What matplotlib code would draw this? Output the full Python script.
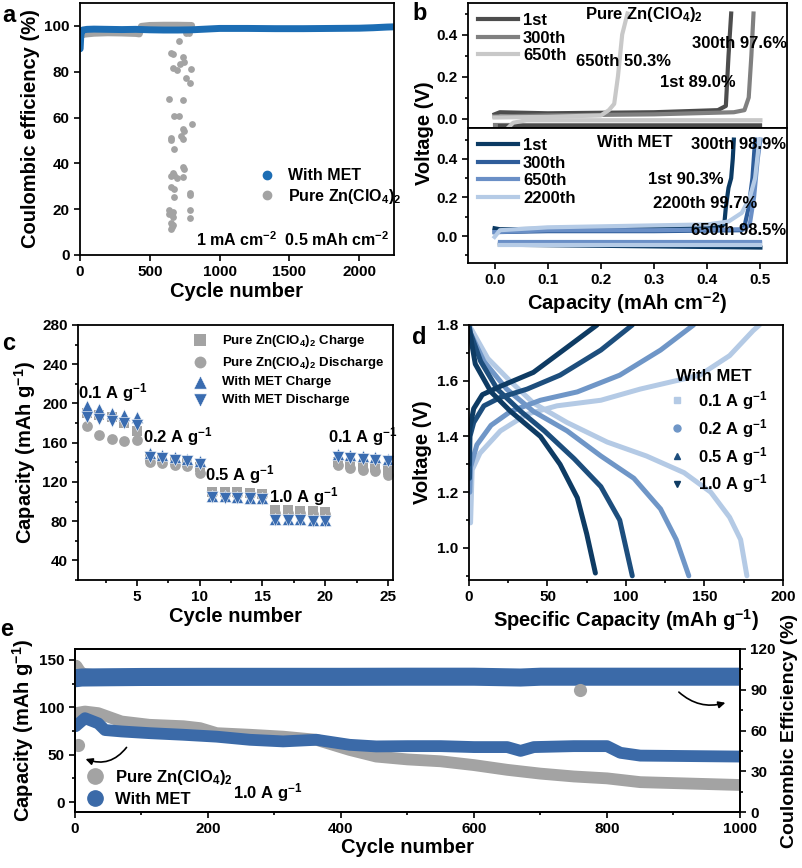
import matplotlib
matplotlib.use("Agg")
import matplotlib.pyplot as plt
from matplotlib.lines import Line2D
from matplotlib.ticker import MultipleLocator

plt.rcParams['font.family'] = ['Liberation Sans', 'DejaVu Sans']
plt.rcParams['font.weight'] = 'bold'
plt.rcParams['axes.labelweight'] = 'bold'
plt.rcParams['mathtext.fontset'] = 'custom'
plt.rcParams['mathtext.bf'] = 'Liberation Sans:bold'
plt.rcParams['mathtext.rm'] = 'Liberation Sans:bold'
plt.rcParams['mathtext.default'] = 'bf'
plt.rcParams['axes.linewidth'] = 1.3

# ---------------- data ----------------
# a: Coulombic efficiency
a_met_cycle = [1, 5, 10, 20, 50, 100, 200, 300, 400, 500, 600, 700, 800, 900, 1000,
               1200, 1400, 1600, 1800, 2000, 2100, 2200, 2250]
a_met_ce = [90, 95, 97.5, 98.2, 98.5, 98.6, 98.5, 98.4, 98.5, 98.3, 98.2, 98.2, 98.3,
            98.6, 98.9, 98.9, 98.8, 98.8, 98.9, 99.0, 99.2, 99.5, 99.6]
a_pure_cycle = [5, 20, 50, 100, 200, 300, 400, 425, 440, 500, 600, 700, 800]
a_pure_ce = [95.5, 96.3, 96.5, 96.8, 97.0, 96.9, 96.7, 96.5, 99.8, 100.2, 100.3, 100.3, 100.2]
a_scatter_cycle = [708, 652, 669, 737, 720, 744, 664, 696, 792, 761, 785, 640, 737, 676,
                   708, 804, 737, 744, 652, 652, 725, 737, 671, 737, 744, 664, 676, 652,
                   696, 737, 652, 671, 785, 785, 671, 640, 664, 785, 640, 664, 785, 652,
                   657, 652, 664, 760, 780]
a_scatter_ce = [93.6, 88.1, 87.8, 86.6, 83.5, 84.2, 81.6, 80.8, 81.0, 77.4, 75.0, 68.2,
                67.8, 60.7, 60.5, 57.3, 55.2, 54.1, 51.1, 50.1, 51.8, 50.8, 46.2, 38.5,
                37.7, 36.0, 34.8, 34.4, 33.4, 34.1, 29.8, 29.0, 27.1, 26.1, 25.1, 19.6,
                18.9, 19.6, 17.7, 16.7, 16.0, 14.1, 12.3, 11.2, 13.1, 97.0, 97.0]

# b: voltage profiles, pure electrolyte
b_p1_cap = [0, 0.01, 0.1, 0.3, 0.42, 0.435, 0.44, 0.445]
b_p1_v = [0.02, 0.03, 0.025, 0.03, 0.04, 0.06, 0.3, 0.5]
b_p300_cap = [0, 0.1, 0.3, 0.45, 0.47, 0.478, 0.483, 0.487]
b_p300_v = [0.01, 0.015, 0.02, 0.03, 0.04, 0.1, 0.3, 0.5]
b_p650_cap = [0, 0.1, 0.2, 0.215, 0.225, 0.232, 0.24, 0.25]
b_p650_v = [0.005, 0.008, 0.015, 0.04, 0.07, 0.2, 0.4, 0.5]
b_p1_plate_cap = [0.01, 0.5]
b_p1_plate_v = [-0.035, -0.035]
b_p300_plate_cap = [0.0, 0.5]
b_p300_plate_v = [-0.03, -0.03]
b_p650_plate_cap = [0.025, 0.035, 0.06, 0.5]
b_p650_plate_v = [-0.045, -0.02, -0.008, -0.008]

# b: voltage profiles, with MET
b_m1_cap = [0, 0.01, 0.2, 0.42, 0.432, 0.435, 0.44, 0.445, 0.448, 0.45]
b_m1_v = [0.04, 0.035, 0.04, 0.045, 0.06, 0.15, 0.25, 0.3, 0.4, 0.5]
b_m300_cap = [0, 0.1, 0.3, 0.465, 0.47, 0.478, 0.485, 0.49]
b_m300_v = [0.02, 0.025, 0.025, 0.03, 0.05, 0.15, 0.3, 0.5]
b_m650_cap = [0, 0.1, 0.3, 0.47, 0.48, 0.488, 0.495, 0.5]
b_m650_v = [0.02, 0.03, 0.03, 0.035, 0.06, 0.2, 0.4, 0.5]
b_m2200_cap = [0, 0.01, 0.1, 0.3, 0.4, 0.44, 0.465, 0.48, 0.49, 0.498]
b_m2200_v = [-0.005, 0.03, 0.045, 0.055, 0.06, 0.075, 0.12, 0.2, 0.3, 0.5]
b_m1_plate_cap = [0.01, 0.5]
b_m1_plate_v = [-0.045, -0.06]
b_m300_plate_v = [-0.035, -0.035]
b_m650_plate_v = [-0.03, -0.03]
b_m2200_plate_v = [-0.045, -0.045]

# c: rate performance
c_cycle = list(range(1, 26))
c_pure_charge = [190, 188, 186, 180, 172, 145, 143, 142, 140, 135, 110, 110, 110, 109, 108,
                 91, 91, 90, 90, 89, 140, 138, 136, 135, 132]
c_pure_dis = [177, 168, 164, 162, 163, 140, 139, 137, 136, 129, 109, 108, 108, 108, 107,
              88, 88, 88, 87, 87, 137, 134, 132, 131, 127]
c_met_charge = [197, 194, 190, 188, 186, 149, 147, 145, 143, 141, 106, 106, 105, 104, 104,
                82, 82, 82, 81, 81, 148, 147, 146, 145, 143]
c_met_dis = [186, 184, 182, 180, 178, 145, 144, 142, 141, 138, 105, 104, 104, 104, 103,
             81, 81, 81, 80, 80, 145, 144, 143, 142, 141]

# d: GCD curves with MET
d01_ch_cap = [1, 2, 7, 20, 37, 56, 84, 109, 147, 166, 181, 185]
d01_ch_v = [1.09, 1.28, 1.34, 1.42, 1.48, 1.51, 1.53, 1.57, 1.62, 1.69, 1.78, 1.8]
d01_dis_cap = [0, 2, 12, 26, 41, 62.5, 88, 113, 137, 154, 166, 173, 177]
d01_dis_v = [1.8, 1.78, 1.68, 1.6, 1.52, 1.45, 1.38, 1.33, 1.27, 1.2, 1.11, 1.03, 0.9]
d02_ch_cap = [0.5, 1, 5, 14, 26.5, 45.5, 69, 96, 122, 143]
d02_ch_v = [1.2, 1.29, 1.37, 1.44, 1.49, 1.53, 1.56, 1.62, 1.71, 1.8]
d02_dis_cap = [0, 1, 9.5, 24, 41, 62.5, 84, 105, 122, 132, 140]
d02_dis_v = [1.8, 1.77, 1.67, 1.57, 1.49, 1.42, 1.33, 1.25, 1.14, 1.03, 0.9]
d05_ch_cap = [0.3, 0.6, 3, 9.5, 20, 37, 58, 84, 104]
d05_ch_v = [1.25, 1.4, 1.45, 1.51, 1.54, 1.57, 1.62, 1.71, 1.8]
d05_dis_cap = [0, 1, 7.4, 18, 33, 48, 67, 84, 96, 104]
d05_dis_v = [1.8, 1.77, 1.67, 1.57, 1.49, 1.42, 1.32, 1.22, 1.1, 0.9]
d10_ch_cap = [0, 0.5, 3, 8.5, 20, 41, 62.5, 81.5]
d10_ch_v = [1.3, 1.43, 1.5, 1.55, 1.58, 1.63, 1.72, 1.8]
d10_dis_cap = [0, 4, 14, 26.5, 45.5, 58, 69, 75, 80.5]
d10_dis_v = [1.79, 1.66, 1.56, 1.49, 1.4, 1.3, 1.18, 1.05, 0.91]

# e: long cycling at 1.0 A g-1
e_met_cycle = [1, 15, 35, 45, 70, 112, 163, 213, 263, 313, 363, 413, 453, 500, 550, 600,
               650, 670, 690, 750, 800, 820, 850, 1000]
e_met_cap = [80, 88.5, 83, 76, 74.5, 72.7, 71, 69, 65.7, 64, 65.7, 60.4, 58.7, 59, 59, 58,
             58, 54, 58, 59, 59, 52, 49, 48]
e_pure_cycle = [1, 15, 35, 70, 112, 163, 188, 213, 263, 313, 363, 413, 453, 500, 550, 600,
                650, 700, 750, 800, 850, 900, 1000]
e_pure_cap = [93.8, 95.5, 93.8, 85, 81.5, 80, 78, 72.7, 71, 69, 65.7, 55, 48, 45, 43, 39,
              34, 30, 27, 25, 21, 20, 18]
e_ce_cycle = [1, 10, 50, 100, 200, 300, 400, 500, 600, 670, 700, 800, 900, 1000]
e_met_ce = [98.5, 99.0, 99.2, 99.4, 99.5, 99.5, 99.5, 99.6, 99.6, 99.0, 99.6, 99.6, 99.6, 99.6]
e_pure_ce_cycle = [1, 5, 10, 30, 100]
e_pure_ce = [107, 104, 101, 100, 99.5]
e_outlier_cap_cycle = [5]
e_outlier_cap = [60]
e_outlier_ce_cycle = [760]
e_outlier_ce = [90]

# ---------------- colours ----------------
blue_a = '#1c6db4'
gray = '#a3a3a3'
gray_b = ['#4d4d4d', '#808080', '#c8c8c8']
blue_b = ['#0b3a63', '#2f5d9a', '#6a8fc6', '#b5cbe6']
blue_c = '#3a6cb0'
blue_d = ['#b4cae5', '#6f96c7', '#1d4e7d', '#0e3b63']
blue_e = '#3b6aa8'

TICK = 11
LAB = 14.5


def pos(l, t, r, b):
    return [l / 803, 1 - b / 868, (r - l) / 803, (b - t) / 868]


def style(ax):
    ax.tick_params(which='both', direction='out', width=1.2, labelsize=TICK)
    ax.tick_params(which='major', length=4)
    ax.tick_params(which='minor', length=2.5)
    for lab in ax.get_xticklabels() + ax.get_yticklabels():
        lab.set_fontweight('bold')


fig = plt.figure(figsize=(8.03, 8.68), dpi=100)

# ---------------- a ----------------
ax = fig.add_axes(pos(80, 3, 394, 255))
ax.plot(a_pure_cycle, a_pure_ce, color=gray, lw=5, solid_capstyle='round')
ax.scatter(a_scatter_cycle, a_scatter_ce, s=24, color=gray, lw=0)
ax.plot(a_met_cycle, a_met_ce, color=blue_a, lw=5, solid_capstyle='round')
ax.set_xlim(0, 2250)
ax.set_ylim(0, 110)
ax.xaxis.set_major_locator(MultipleLocator(500))
ax.yaxis.set_major_locator(MultipleLocator(20))
ax.set_xlabel('Cycle number', fontsize=LAB, labelpad=2)
ax.set_ylabel('Coulombic efficiency (%)', fontsize=LAB, labelpad=3)
handles = [Line2D([], [], marker='o', ls='', color=blue_a, ms=6),
           Line2D([], [], marker='o', ls='', color=gray, ms=6)]
ax.legend(handles, ['With MET', 'Pure Zn(ClO$_4$)$_2$'], loc='center left',
          bbox_to_anchor=(0.5, 0.27), frameon=False, fontsize=11.5, handletextpad=0.3,
          labelspacing=0.2)
ax.text(0.985, 0.025, '1 mA cm$^{-2}$  0.5 mAh cm$^{-2}$', transform=ax.transAxes,
        ha='right', va='bottom', fontsize=11.5)
style(ax)

# ---------------- b ----------------
axb1 = fig.add_axes(pos(468, 3, 787, 128))
axb2 = fig.add_axes(pos(468, 128, 787, 263))
for cap, v, c, lab in [(b_p1_cap, b_p1_v, gray_b[0], '1st'),
                       (b_p300_cap, b_p300_v, gray_b[1], '300th'),
                       (b_p650_cap, b_p650_v, gray_b[2], '650th')]:
    axb1.plot(cap, v, color=c, lw=3, label=lab)
axb1.plot(b_p300_plate_cap, b_p300_plate_v, color=gray_b[1], lw=3)
axb1.plot(b_p1_plate_cap, b_p1_plate_v, color=gray_b[0], lw=3)
axb1.plot(b_p650_plate_cap, b_p650_plate_v, color=gray_b[2], lw=3)
axb1.set_xlim(-0.05, 0.55)
axb1.set_ylim(-0.045, 0.55)
axb1.set_xticks([])
axb1.yaxis.set_major_locator(MultipleLocator(0.2))
axb1.yaxis.set_minor_locator(MultipleLocator(0.1))
axb1.legend(loc='upper left', frameon=False, fontsize=12, handlelength=2.4,
            handletextpad=0.3, labelspacing=0.15, borderaxespad=0.2)
axb1.text(0.28, 0.495, 'Pure Zn(ClO$_4$)$_2$', ha='center', va='center', fontsize=12)
axb1.text(0.46, 0.357, '300th 97.6%', ha='center', va='center', fontsize=12)
axb1.text(0.243, 0.27, '650th 50.3%', ha='center', va='center', fontsize=12)
axb1.text(0.383, 0.17, '1st 89.0%', ha='center', va='center', fontsize=12)
style(axb1)

axb2.plot(b_m1_plate_cap, b_m1_plate_v, color=blue_b[0], lw=3)
axb2.plot(b_m1_plate_cap, b_m300_plate_v, color=blue_b[1], lw=3)
axb2.plot(b_m1_plate_cap, b_m650_plate_v, color=blue_b[2], lw=3)
axb2.plot(b_m1_plate_cap, b_m2200_plate_v, color=blue_b[3], lw=3)
for cap, v, c, lab in [(b_m1_cap, b_m1_v, blue_b[0], '1st'),
                       (b_m300_cap, b_m300_v, blue_b[1], '300th'),
                       (b_m650_cap, b_m650_v, blue_b[2], '650th'),
                       (b_m2200_cap, b_m2200_v, blue_b[3], '2200th')]:
    axb2.plot(cap, v, color=c, lw=3, label=lab)
axb2.set_xlim(-0.05, 0.55)
axb2.set_ylim(-0.14, 0.56)
axb2.xaxis.set_major_locator(MultipleLocator(0.1))
axb2.yaxis.set_major_locator(MultipleLocator(0.2))
axb2.yaxis.set_minor_locator(MultipleLocator(0.1))
axb2.xaxis.set_major_formatter(plt.FormatStrFormatter('%.1f'))
axb2.set_xlabel('Capacity (mAh cm$^{-2}$)', fontsize=LAB, labelpad=2)
axb2.legend(loc='upper left', frameon=False, fontsize=12, handlelength=2.4,
            handletextpad=0.3, labelspacing=0.15, borderaxespad=0.2)
axb2.text(0.264, 0.487, 'With MET', ha='center', va='center', fontsize=12)
axb2.text(0.459, 0.477, '300th 98.9%', ha='center', va='center', fontsize=12)
axb2.text(0.36, 0.295, '1st 90.3%', ha='center', va='center', fontsize=12)
axb2.text(0.396, 0.166, '2200th 99.7%', ha='center', va='center', fontsize=12)
axb2.text(0.459, 0.031, '650th 98.5%', ha='center', va='center', fontsize=12)
style(axb2)
fig.text(425 / 803, 1 - 133 / 868, 'Voltage (V)', rotation=90, ha='center', va='center',
         fontsize=LAB)

# ---------------- c ----------------
ax = fig.add_axes(pos(78, 325, 393, 580))
ax.scatter(c_cycle, c_pure_charge, marker='s', s=55, color=gray, lw=0,
           label='Pure Zn(ClO$_4$)$_2$ Charge')
ax.scatter(c_cycle, c_pure_dis, marker='o', s=60, color=gray, lw=0,
           label='Pure Zn(ClO$_4$)$_2$ Discharge')
ax.scatter(c_cycle, c_met_charge, marker='^', s=75, color=blue_c, lw=0.4, edgecolor='white',
           label='With MET Charge')
ax.scatter(c_cycle, c_met_dis, marker='v', s=75, color=blue_c, lw=0.4, edgecolor='white',
           label='With MET Discharge')
ax.set_xlim(0.3, 25.4)
ax.set_ylim(20, 280)
ax.xaxis.set_major_locator(MultipleLocator(5))
ax.xaxis.set_minor_locator(MultipleLocator(2.5))
ax.yaxis.set_major_locator(MultipleLocator(40))
ax.yaxis.set_minor_locator(MultipleLocator(20))
ax.set_xlabel('Cycle number', fontsize=LAB, labelpad=2)
ax.set_ylabel('Capacity (mAh g$^{-1}$)', fontsize=LAB, labelpad=3)
ax.legend(loc='upper right', bbox_to_anchor=(1.0, 1.005), frameon=False, fontsize=9.5,
          handletextpad=0.6, labelspacing=0.42, borderaxespad=0.3, markerscale=1.1)
for x, y, t in [(3.1, 210.7, '0.1 A g$^{-1}$'), (8.25, 166, '0.2 A g$^{-1}$'),
                (13.2, 127.5, '0.5 A g$^{-1}$'), (18.3, 105, '1.0 A g$^{-1}$'),
                (23.0, 166, '0.1 A g$^{-1}$')]:
    ax.text(x, y, t, ha='center', va='center', fontsize=12)
style(ax)

# ---------------- d ----------------
ax = fig.add_axes(pos(469, 325, 783, 580))
series_d = [(d01_ch_cap, d01_ch_v, d01_dis_cap, d01_dis_v, 's', '0.1 A g$^{-1}$'),
            (d02_ch_cap, d02_ch_v, d02_dis_cap, d02_dis_v, 'o', '0.2 A g$^{-1}$'),
            (d05_ch_cap, d05_ch_v, d05_dis_cap, d05_dis_v, '^', '0.5 A g$^{-1}$'),
            (d10_ch_cap, d10_ch_v, d10_dis_cap, d10_dis_v, 'v', '1.0 A g$^{-1}$')]
handles = []
for (cc, cv, dc, dv, m, lab), col in zip(series_d, blue_d):
    ax.plot(cc, cv, color=col, lw=3.6, solid_capstyle='round')
    ax.plot(dc, dv, color=col, lw=3.6, solid_capstyle='round')
    handles.append(Line2D([], [], marker=m, ls='', color=col, ms=5))
ax.set_xlim(0, 200)
ax.set_ylim(0.885, 1.8)
ax.xaxis.set_major_locator(MultipleLocator(50))
ax.xaxis.set_minor_locator(MultipleLocator(25))
ax.yaxis.set_major_locator(MultipleLocator(0.2))
ax.yaxis.set_minor_locator(MultipleLocator(0.1))
ax.set_xlabel('Specific Capacity (mAh g$^{-1}$)', fontsize=LAB, labelpad=2)
ax.set_ylabel('Voltage (V)', fontsize=LAB, labelpad=4)
leg = ax.legend(handles, [s[5] for s in series_d], title='With MET', loc='center right',
                bbox_to_anchor=(1.0, 0.58), frameon=False, fontsize=12,
                title_fontproperties={'weight': 'bold', 'size': 12},
                handletextpad=0.3, labelspacing=0.3)
style(ax)

# ---------------- e ----------------
ax = fig.add_axes(pos(75, 649, 740, 812))
ax2 = ax.twinx()
ax.plot(e_pure_cycle, e_pure_cap, color=gray, lw=8.5, solid_capstyle='round')
ax.plot(e_met_cycle, e_met_cap, color=blue_e, lw=8.5, solid_capstyle='round')
ax.scatter(e_outlier_cap_cycle, e_outlier_cap, s=90, color=gray, lw=0)
ax2.plot(e_pure_ce_cycle, e_pure_ce, color=gray, lw=10, solid_capstyle='round')
ax2.plot(e_ce_cycle, e_met_ce, color=blue_e, lw=13, solid_capstyle='round')
ax2.scatter(e_outlier_ce_cycle, e_outlier_ce, s=90, color=gray, lw=0, zorder=3)
ax.set_xlim(0, 1000)
ax.set_ylim(-10.5, 161.5)
ax2.set_ylim(0, 120)
ax.xaxis.set_major_locator(MultipleLocator(200))
ax.xaxis.set_minor_locator(MultipleLocator(100))
ax.yaxis.set_major_locator(MultipleLocator(50))
ax.yaxis.set_minor_locator(MultipleLocator(25))
ax2.yaxis.set_major_locator(MultipleLocator(30))
ax2.yaxis.set_minor_locator(MultipleLocator(15))
ax.set_xlabel('Cycle number', fontsize=LAB, labelpad=1)
ax.set_ylabel('Capacity (mAh g$^{-1}$)', fontsize=14.5, labelpad=2)
ax2.set_ylabel('Coulombic Efficiency (%)', fontsize=14, labelpad=4)
handles = [Line2D([], [], marker='o', ls='', color=gray, ms=11),
           Line2D([], [], marker='o', ls='', color=blue_e, ms=11)]
ax.legend(handles, ['Pure Zn(ClO$_4$)$_2$', 'With MET'], loc='lower left',
          bbox_to_anchor=(-0.01, -0.03), frameon=False, fontsize=12, handletextpad=0.2,
          labelspacing=0.3, borderaxespad=0.2)
ax.text(290, 10.5, '1.0 A g$^{-1}$', ha='center', va='center', fontsize=12)
ax.annotate('', xy=(12, 46.5), xytext=(80, 60),
            arrowprops=dict(arrowstyle='-|>', color='black', lw=1.2,
                            connectionstyle='arc3,rad=-0.4', mutation_scale=10))
ax.annotate('', xy=(982, 105.6), xytext=(905, 118),
            arrowprops=dict(arrowstyle='-|>', color='black', lw=1.2,
                            connectionstyle='arc3,rad=0.3', mutation_scale=10))
style(ax)
style(ax2)

# panel letters
for x, y, t in [(2, 15, 'a'), (412, 13, 'b'), (2, 343, 'c'), (412, 337, 'd'), (0, 629, 'e')]:
    fig.text(x / 803, 1 - y / 868, t, fontsize=17, ha='left', va='center')

fig.savefig('out.png', dpi=100)
